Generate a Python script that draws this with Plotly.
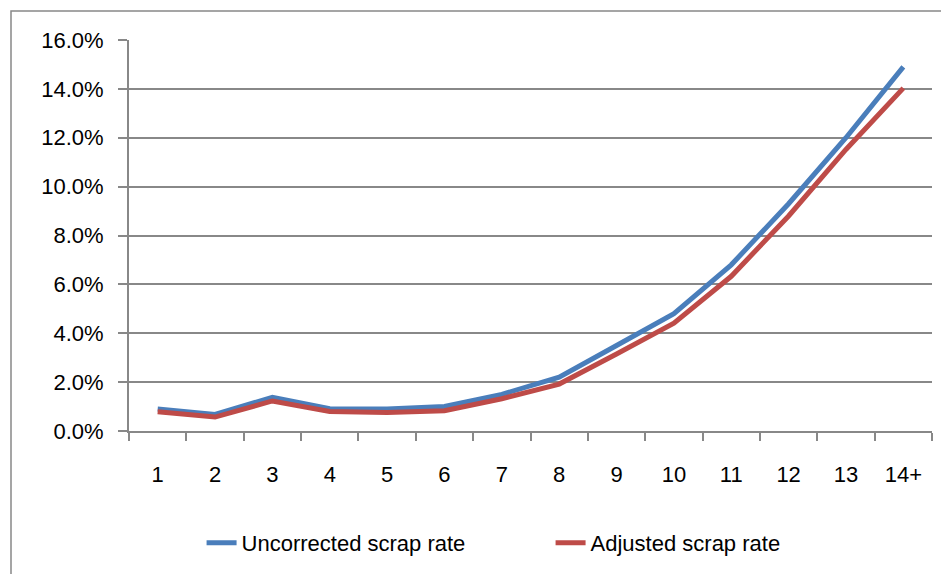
import plotly.graph_objects as go

categories = ["1", "2", "3", "4", "5", "6", "7", "8", "9", "10", "11", "12", "13", "14+"]
uncorrected = [0.0090, 0.0068, 0.0138, 0.0091, 0.0090, 0.0100, 0.0150, 0.0220, 0.0350, 0.0480, 0.0680, 0.0930, 0.1200, 0.1490]
adjusted = [0.0079, 0.0057, 0.0123, 0.0080, 0.0076, 0.0083, 0.0132, 0.0192, 0.0315, 0.0441, 0.0633, 0.0880, 0.1152, 0.1403]
series_names = ["Uncorrected scrap rate", "Adjusted scrap rate"]
colors = ["#4A7EBB", "#BE4B48"]

FONT = "Liberation Sans"
GRID = "#888888"

fig = go.Figure()
for name, vals, col in zip(series_names, [uncorrected, adjusted], colors):
    fig.add_trace(go.Scatter(x=categories, y=vals, mode="lines", name=name,
                             line=dict(color=col, width=5)))

# page body has an 8px default margin, so the figure is drawn 8px lower/right
fig.update_layout(
    width=941, height=566,
    margin=dict(l=121, r=17, t=32, b=143, autoexpand=False),
    paper_bgcolor="white", plot_bgcolor="white",
    font=dict(family=FONT, size=22, color="#000000"),
    showlegend=True,
    legend=dict(orientation="h", x=0.525, xanchor="center", y=-0.286, yanchor="middle",
                font=dict(family=FONT, size=22, color="#000000"),
                entrywidth=304, itemwidth=30, tracegroupgap=0),
    shapes=[dict(type="rect", xref="paper", yref="paper",
                 x0=(11 - 129) / 803, x1=1.05, y0=-0.45, y1=(431 - 11) / 391,
                 line=dict(color=GRID, width=1.5), fillcolor="rgba(0,0,0,0)", layer="below")],
)
fig.update_xaxes(type="category", range=[-0.5, 13.5], automargin=False,
                 showline=True, linecolor=GRID, linewidth=2,
                 ticks="outside", tickson="boundaries", ticklen=8, tickcolor=GRID, tickwidth=2,
                 ticklabelstandoff=23,
                 showgrid=False, zeroline=False, tickfont=dict(family=FONT, size=22, color="#000"))
fig.update_yaxes(range=[0, 0.16], dtick=0.02, tick0=0, tickformat=".1%", automargin=False,
                 showline=True, linecolor=GRID, linewidth=2,
                 ticks="outside", ticklen=9, tickcolor=GRID, tickwidth=2,
                 ticklabelstandoff=10,
                 showgrid=True, gridcolor=GRID, gridwidth=2, zeroline=False,
                 tickfont=dict(family=FONT, size=22, color="#000"))

fig.write_html("out.html")
